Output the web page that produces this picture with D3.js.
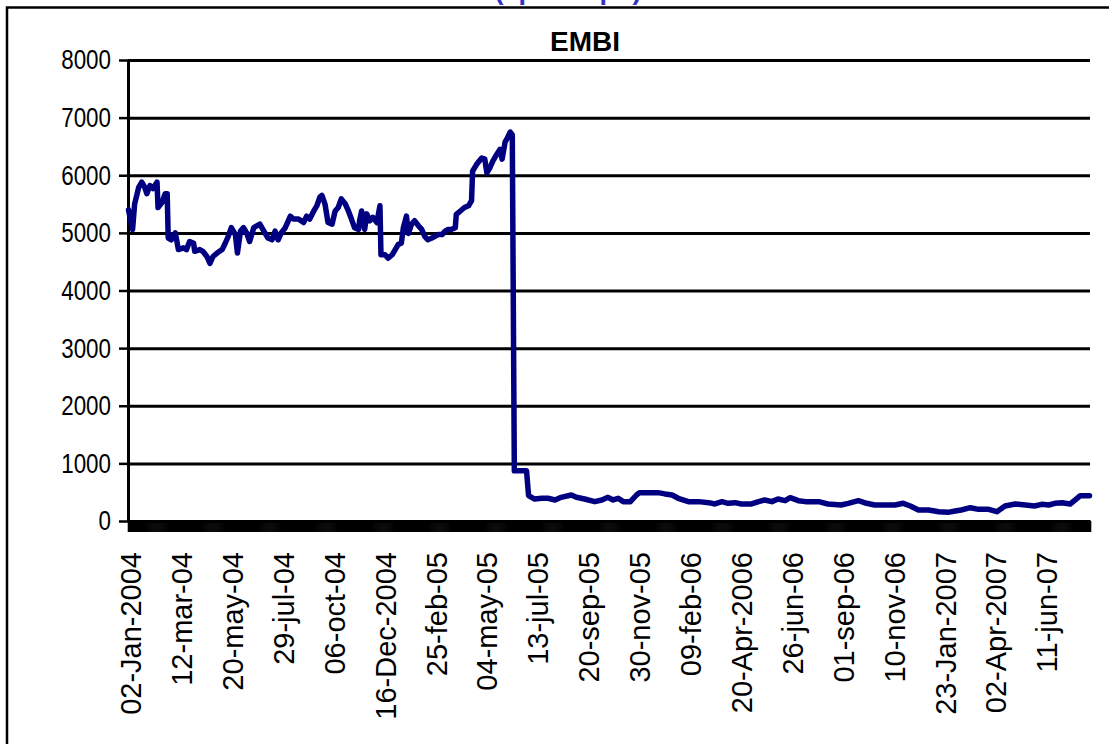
<!DOCTYPE html>
<html><head><meta charset="utf-8">
<script src="https://cdn.jsdelivr.net/npm/d3@7"></script>
<style>body{margin:0;background:#fff} text{font-family:"Liberation Sans",Arial,sans-serif}</style>
</head><body><svg id="c" width="1109" height="744"></svg>
<script>
const chartTitle = "EMBI";
const unitTitle = "(spread pb)";
const nObs = 945;
const labelEvery = 50;
const xLabels = ["02-Jan-2004","12-mar-04","20-may-04","29-jul-04","06-oct-04","16-Dec-2004","25-feb-05","04-may-05","13-jul-05","20-sep-05","30-nov-05","09-feb-06","20-Apr-2006","26-jun-06","01-sep-06","10-nov-06","23-Jan-2007","02-Apr-2007","11-jun-07"];
const yTicks = [0,1000,2000,3000,4000,5000,6000,7000,8000];
const obsIndex = [0,4,6,10,13,16,18,21,24,28,29,33,36,38,39,42,46,49,54,57,60,64,65,70,73,77,80,83,87,92,95,98,101,105,107,110,113,116,119,123,126,129,132,137,141,144,147,150,154,159,162,167,172,175,178,182,185,188,190,193,196,200,203,206,209,213,216,219,222,226,227,229,232,234,237,240,244,247,248,252,255,259,262,265,268,270,273,275,278,281,285,288,291,294,298,301,304,308,311,314,317,321,322,326,330,334,337,338,342,347,350,352,355,358,362,365,367,370,372,375,377,379,391,393,399,406,412,419,425,435,440,448,458,465,471,476,481,486,493,499,502,511,520,527,534,540,550,560,570,576,583,589,596,602,612,619,625,632,638,645,650,658,665,670,678,687,700,707,717,725,733,743,753,761,768,776,786,796,805,812,818,827,835,845,853,861,871,881,890,897,904,910,917,925,930,935,944];
const embiValues = [5400,5060,5500,5790,5880,5790,5680,5820,5770,5880,5440,5530,5680,5680,4910,4880,5000,4710,4740,4710,4850,4820,4680,4710,4680,4590,4470,4590,4650,4710,4820,4940,5090,4970,4650,5030,5090,5000,4850,5090,5120,5150,5060,4910,4880,5030,4880,5000,5090,5290,5240,5240,5180,5290,5240,5380,5470,5620,5650,5500,5180,5150,5380,5440,5590,5500,5380,5240,5090,5060,5210,5380,5060,5330,5210,5270,5180,5470,4620,4620,4560,4620,4710,4800,4820,5090,5290,4990,5150,5210,5120,5060,4940,4880,4910,4940,4970,4970,5030,5060,5060,5090,5320,5380,5440,5470,5560,6070,6190,6300,6280,6040,6130,6250,6370,6450,6280,6580,6640,6750,6700,870,870,440,380,394,394,365,411,451,411,382,336,365,411,365,394,336,336,451,492,492,492,470,451,394,336,336,318,296,336,307,318,296,296,336,365,336,382,353,405,353,336,336,336,295,278,307,353,307,278,278,278,307,260,191,191,162,150,173,191,231,202,202,162,260,295,278,260,289,278,307,318,295,365,440,440];

const svg = d3.select("#c");
const L = 128, R = 1090, T = 60, B = 521;
const x = d3.scaleLinear().domain([-0.5, nObs - 0.5]).range([L, R]);
const y = d3.scaleLinear().domain([0, 8000]).range([B, T]);

// outer frame (extends beyond the picture)
svg.append("rect").attr("x", 7).attr("y", 7.5).attr("width", 1300).attr("height", 1000)
  .attr("fill", "none").attr("stroke", "#000").attr("stroke-width", 2.5);

// page title, cut off at the top edge as in the reference
svg.append("text").attr("x", 568).attr("y", -1).attr("text-anchor", "middle")
  .attr("font-size", 27).attr("font-weight", "bold").attr("fill", "#3333cc").text(unitTitle);

// chart title
svg.append("text").attr("x", 585).attr("y", 51).attr("text-anchor", "middle")
  .attr("font-size", 28).attr("font-weight", "bold").attr("fill", "#000").text(chartTitle);

// gridlines
const grid = svg.append("g").attr("transform", `translate(${L},0)`)
  .call(d3.axisLeft(y).tickValues(yTicks.filter(d => d > 0)).tickSize(-(R - L)).tickSizeOuter(0).tickFormat(""));
grid.select(".domain").remove();
grid.selectAll("line").attr("stroke", "#000").attr("stroke-width", 3);

// y axis
const ya = svg.append("g").attr("transform", `translate(${L},0)`)
  .call(d3.axisLeft(y).tickValues(yTicks).tickSize(9).tickSizeOuter(0).tickFormat(d3.format("d")));
ya.select(".domain").attr("stroke", "#000").attr("stroke-width", 3);
ya.selectAll("line").attr("stroke", "#000").attr("stroke-width", 2.5);
ya.selectAll("text").attr("font-size", 28).attr("fill", "#000").attr("font-family", "Liberation Sans, Arial, sans-serif")
  .attr("x", 0).attr("text-anchor", "end").attr("transform", "translate(-17,0) scale(0.8,1)");

// x axis: one tick per observation
const xt = svg.append("g").attr("transform", `translate(0,${B})`)
  .call(d3.axisBottom(x).tickValues(d3.range(0, nObs + 1).map(i => i - 0.5)).tickSize(11).tickSizeOuter(0).tickFormat(""));
xt.select(".domain").attr("stroke", "#000").attr("stroke-width", 3);
xt.selectAll("line").attr("stroke", "#000").attr("stroke-width", 1.6);

// x labels every 50 observations
const xl = svg.append("g").attr("transform", `translate(0,${B})`)
  .call(d3.axisBottom(x).tickValues(xLabels.map((_, k) => k * labelEvery)).tickSize(0).tickFormat(i => xLabels[i / labelEvery]));
xl.select(".domain").remove();
xl.selectAll("text").attr("font-size", 29).attr("fill", "#000").attr("font-family", "Liberation Sans, Arial, sans-serif")
  .attr("transform", "rotate(-90)").attr("text-anchor", "end")
  .attr("x", -31).attr("y", 2).attr("dy", "0.35em");

// series
const pts = obsIndex.map((i, k) => [i, embiValues[k]]);
svg.append("path").datum(pts)
  .attr("d", d3.line().x(d => x(d[0])).y(d => y(d[1])))
  .attr("fill", "none").attr("stroke", "#000080").attr("stroke-width", 5.5)
  .attr("stroke-linejoin", "round").attr("stroke-linecap", "round");
</script></body></html>
